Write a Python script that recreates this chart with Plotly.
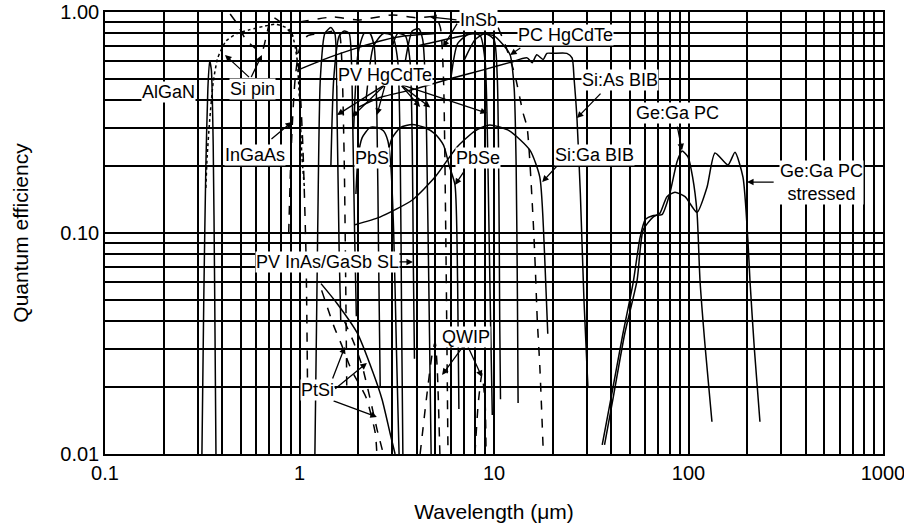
import math
import plotly.graph_objects as go

# ---------------- data (wavelength in um, quantum efficiency) ----------------
algan_x = [0.315, 0.322, 0.33, 0.338, 0.345, 0.352, 0.36, 0.366, 0.372]
algan_y = [0.01, 0.05, 0.2, 0.45, 0.6, 0.55, 0.25, 0.06, 0.01]

sipin_x = [0.33, 0.335, 0.345, 0.36, 0.38, 0.42, 0.48, 0.55, 0.65, 0.75, 0.85, 0.92, 0.97, 1.0, 1.03, 1.06]
sipin_y = [0.16, 0.22, 0.32, 0.48, 0.62, 0.74, 0.8, 0.83, 0.86, 0.88, 0.85, 0.78, 0.62, 0.4, 0.22, 0.16]

si2_x = [0.44, 0.48, 0.53, 0.6, 0.64, 0.68, 0.72, 0.8, 0.9, 0.96, 1.0, 1.04, 1.08, 1.1]
si2_y = [0.98, 0.88, 0.75, 0.68, 0.66, 0.8, 0.95, 0.9, 0.82, 0.7, 0.5, 0.25, 0.08, 0.02]

ingaas_x = [0.88, 0.9, 0.92, 0.95, 1.0, 1.1, 1.3, 1.5, 1.6, 1.65, 1.7, 1.75]
ingaas_y = [0.1, 0.2, 0.32, 0.5, 0.68, 0.78, 0.8, 0.82, 0.8, 0.6, 0.2, 0.02]

# PV HgCdTe family
hg1_x = [1.2, 1.24, 1.28, 1.35, 1.45, 1.52, 1.56, 1.6, 1.63]
hg1_y = [0.01, 0.1, 0.5, 0.8, 0.85, 0.8, 0.34, 0.08, 0.04]
hg2_x = [1.45, 1.5, 1.6, 1.7, 1.8, 1.85, 1.88, 1.92, 1.96]
hg2_y = [0.2, 0.5, 0.78, 0.82, 0.8, 0.6, 0.3, 0.1, 0.042]
hg3_x = [1.9, 2.0, 2.15, 2.3, 2.42, 2.5, 2.55, 2.6]
hg3_y = [0.3, 0.65, 0.8, 0.8, 0.7, 0.34, 0.08, 0.02]
hg4_x = [2.2, 2.4, 2.7, 3.0, 3.2, 3.3, 3.35, 3.4]
hg4_y = [0.4, 0.7, 0.8, 0.78, 0.6, 0.2, 0.04, 0.01]
hg5_x = [3.0, 3.2, 3.5, 3.7, 3.8, 3.85, 3.9]
hg5_y = [0.7, 0.8, 0.78, 0.6, 0.25, 0.07, 0.027]
hg6_x = [3.5, 3.8, 4.1, 4.3, 4.45, 4.55, 4.65, 4.75]
hg6_y = [0.6, 0.82, 0.84, 0.75, 0.45, 0.15, 0.04, 0.01]
hg7_x = [6.0, 6.5, 7.5, 8.5, 9.0, 9.2, 9.4, 9.6, 9.8]
hg7_y = [0.5, 0.72, 0.8, 0.78, 0.6, 0.35, 0.12, 0.04, 0.015]
hg8_x = [7.0, 8.0, 9.0, 10.0, 10.4, 10.6, 10.7, 10.8]
hg8_y = [0.6, 0.75, 0.8, 0.75, 0.5, 0.15, 0.04, 0.0177]
hg9_x = [1.0, 1.4, 2.0, 2.6, 3.5, 5.0]
hg9_y = [0.55, 0.62, 0.69, 0.74, 0.78, 0.8]

insb_x = [1.0, 1.5, 2.0, 3.0, 4.0, 5.0, 5.3, 5.5, 5.65, 5.8]
insb_y = [0.9, 0.95, 0.92, 0.97, 0.94, 0.95, 0.85, 0.5, 0.1, 0.01]

pchg_x = [4.0, 6.0, 8.0, 10.0, 11.0, 12.1, 12.7, 13.0, 13.2, 13.3]
pchg_y = [0.7, 0.76, 0.8, 0.78, 0.72, 0.64, 0.45, 0.2, 0.05, 0.017]

pbs_x = [1.95, 2.0, 2.1, 2.3, 2.5, 2.7, 2.85, 2.95, 3.05, 3.15, 3.25]
pbs_y = [0.15, 0.22, 0.27, 0.3, 0.3, 0.29, 0.26, 0.2, 0.1, 0.03, 0.01]

pbse_x = [2.8, 3.0, 3.3, 3.8, 4.4, 5.0, 5.5, 5.9, 6.3, 6.5, 6.6]
pbse_y = [0.22, 0.27, 0.3, 0.31, 0.3, 0.28, 0.25, 0.2, 0.165, 0.06, 0.016]

arch_x = [1.93, 2.59, 3.8, 5.0, 6.46, 8.0, 9.5, 12.0, 15.3, 17.2, 18.2, 18.9]
arch_y = [0.109, 0.118, 0.141, 0.18, 0.245, 0.29, 0.308, 0.29, 0.237, 0.179, 0.08, 0.035]

sias_x = [2.0, 2.59, 4.0, 6.0, 9.0, 12.0, 14.8, 15.7, 16.6, 17.9, 18.7, 20.1, 23.7, 25.2, 25.8, 26.7, 27.8, 29.0, 30.4]
sias_y = [0.37, 0.41, 0.45, 0.5, 0.55, 0.59, 0.62, 0.59, 0.64, 0.61, 0.65, 0.65, 0.65, 0.62, 0.5, 0.33, 0.15, 0.05, 0.02]

siga_x = [10.5, 11.5, 12.8, 14.1, 14.8, 15.9, 16.3, 16.7, 17.2, 17.9]
siga_y = [0.85, 0.7, 0.52, 0.35, 0.3, 0.114, 0.07, 0.04, 0.025, 0.0105]

sl_x = [1.29, 1.56, 1.98, 2.39, 2.66, 2.92, 3.1]
sl_y = [0.059, 0.048, 0.0353, 0.0233, 0.0176, 0.01245, 0.01]

ptsi1_x = [1.3, 1.5, 1.65, 1.85, 2.2, 2.45, 2.5]
ptsi1_y = [0.055, 0.038, 0.031, 0.024, 0.018, 0.0125, 0.01]
ptsi2_x = [1.7, 1.9, 2.1, 2.3, 2.5, 2.7]
ptsi2_y = [0.04, 0.032, 0.025, 0.018, 0.013, 0.01]

qwip1_x = [4.17, 4.5, 4.8, 4.98, 5.1, 5.27]
qwip1_y = [0.01, 0.018, 0.028, 0.032, 0.025, 0.01]
qwip2_x = [7.98, 8.3, 8.67, 9.0, 9.1]
qwip2_y = [0.01, 0.017, 0.023, 0.017, 0.01]

gega_x = [36, 40, 46, 52, 56.3, 60, 66, 73, 80, 87.3, 92.6, 99.4, 105, 110.6, 114.6, 122, 132]
gega_y = [0.011, 0.018, 0.035, 0.06, 0.095, 0.115, 0.12, 0.121, 0.15, 0.21, 0.235, 0.221, 0.179, 0.124, 0.061, 0.03, 0.014]

gegas_x = [37, 41, 47, 54.4, 58.4, 65.7, 71.3, 77.5, 85.2, 96, 110.6, 124.5, 136.8, 159.6, 173.4, 190.6, 202, 207, 218, 233]
gegas_y = [0.011, 0.018, 0.035, 0.061, 0.103, 0.118, 0.123, 0.146, 0.153, 0.146, 0.124, 0.161, 0.23, 0.203, 0.232, 0.179, 0.093, 0.061, 0.03, 0.014]

x_decades = [0.1, 1, 10, 100, 1000]
x_tick_text = ["0.1", "1", "10", "100", "1000"]
y_decades = [0.01, 0.1, 1.0]
y_tick_text = ["0.01", "0.10", "1.00"]

# ---------------- figure ----------------
fig = go.Figure()

def add(x, y, dash="solid"):
    fig.add_trace(go.Scatter(x=x, y=y, mode="lines",
                             line=dict(color="black", width=1.5, dash=dash, shape="spline", smoothing=0.6),
                             showlegend=False, hoverinfo="skip"))

add(algan_x, algan_y)
add(sipin_x, sipin_y, "dot")
add(si2_x, si2_y, "dash")
add(ingaas_x, ingaas_y, "dash")
for hx, hy in [(hg1_x, hg1_y), (hg2_x, hg2_y), (hg3_x, hg3_y), (hg4_x, hg4_y), (hg5_x, hg5_y),
               (hg6_x, hg6_y), (hg7_x, hg7_y), (hg8_x, hg8_y), (hg9_x, hg9_y)]:
    add(hx, hy)
add(insb_x, insb_y, "dash")
add(pchg_x, pchg_y)
add(pbs_x, pbs_y)
add(pbse_x, pbse_y)
add(arch_x, arch_y)
add(sias_x, sias_y)
add(siga_x, siga_y, "dash")
add(sl_x, sl_y)
add(ptsi1_x, ptsi1_y, "dash")
add(ptsi2_x, ptsi2_y, "dash")
add(qwip1_x, qwip1_y, "dash")
add(qwip2_x, qwip2_y, "dash")
add(gega_x, gega_y)
add(gegas_x, gegas_y)

def grid_with_labels(decades, texts, e0, e1):
    vals = [m * 10 ** e for e in range(e0, e1) for m in range(1, 10)] + [10 ** e1]
    labs = []
    for v in vals:
        lab = ""
        for d, t in zip(decades, texts):
            if abs(v - d) / d < 1e-9:
                lab = t
        labs.append(lab)
    return vals, labs

x_grid, x_text = grid_with_labels(x_decades, x_tick_text, -1, 3)
y_grid, y_text = grid_with_labels(y_decades, y_tick_text, -2, 0)

L = math.log10
FONT = "Liberation Sans, Arial, sans-serif"

def label(text, x, y, xanchor="center"):
    fig.add_annotation(x=L(x), y=L(y), text=text, showarrow=False, xanchor=xanchor,
                       font=dict(size=18, color="black", family=FONT), bgcolor="white", borderpad=0)

def arrow(tx, ty, hx, hy):
    fig.add_annotation(x=L(hx), y=L(hy), ax=L(tx), ay=L(ty), axref="x", ayref="y", xref="x", yref="y",
                       text="", showarrow=True, arrowhead=2, arrowsize=1, arrowwidth=1.3, arrowcolor="black")

# arrows
arrow(0.56, 0.5, 0.414, 0.639)
arrow(0.56, 0.5, 0.641, 0.639)
arrow(0.705, 0.263, 0.915, 0.318)
for hx, hy in [(1.56, 0.342), (1.86, 0.335), (2.5, 0.342), (4.17, 0.372), (4.7, 0.37), (9.2, 0.349)]:
    arrow(2.76 if hx < 3 else 3.3, 0.47, hx, hy)
arrow(7.1, 0.193, 6.3, 0.165)
arrow(6.53, 0.9, 5.47, 0.694)
arrow(6.53, 0.92, 4.69, 0.95)
arrow(13.9, 0.694, 12.1, 0.639)
arrow(35.9, 0.434, 26.7, 0.331)
arrow(21.3, 0.203, 17.7, 0.17)
arrow(87.3, 0.308, 92.6, 0.237)
arrow(279, 0.17, 200, 0.17)
arrow(2.53, 0.074, 3.83, 0.074)
arrow(1.47, 0.0216, 1.71, 0.0305)
arrow(1.5, 0.0195, 2.22, 0.0258)
arrow(1.47, 0.0175, 2.5, 0.0147)
arrow(7.0, 0.031, 5.41, 0.0228)
arrow(7.3, 0.031, 8.67, 0.0223)

# labels
label("AlGaN", 0.211, 0.435)
label("Si pin", 0.57, 0.449)
label("InGaAs", 0.59, 0.225)
label("PV HgCdTe", 2.76, 0.519)
label("PbS", 2.36, 0.218)
label("PbSe", 8.28, 0.218)
label("InSb", 8.28, 0.92)
label("PC HgCdTe", 23.2, 0.787)
label("Si:As BIB", 44.5, 0.492)
label("Si:Ga BIB", 33, 0.225)
label("Ge:Ga PC", 88.3, 0.349)
label("Ge:Ga PC<br>stressed", 292, 0.17, xanchor="left")
label("PV InAs/GaSb SL", 1.4, 0.074)
label("PtSi", 1.24, 0.0195)
label("QWIP", 7.18, 0.0338)

fig.update_layout(
    width=904, height=529,
    margin=dict(l=105, r=21, t=12, b=75, autoexpand=False),
    paper_bgcolor="white", plot_bgcolor="white",
    font=dict(family=FONT, color="black"),
    showlegend=False,
    xaxis=dict(type="log", range=[-1, 3], tickvals=x_grid, ticktext=x_text, automargin=False,
               ticklabeloverflow="allow",
               showgrid=True, gridcolor="black", gridwidth=1.5,
               showline=True, linecolor="black", linewidth=1.5, mirror=True,
               ticks="", tickfont=dict(size=20, family=FONT), zeroline=False,
               title=dict(text="Wavelength (\u03bcm)", font=dict(size=21, family=FONT), standoff=22)),
    yaxis=dict(type="log", range=[-2, 0], tickvals=y_grid, ticktext=y_text, automargin=False,
               ticklabeloverflow="allow",
               showgrid=True, gridcolor="black", gridwidth=1.5,
               showline=True, linecolor="black", linewidth=1.5, mirror=True,
               ticks="", tickfont=dict(size=20, family=FONT), zeroline=False,
               title=dict(text="Quantum efficiency", font=dict(size=21, family=FONT), standoff=26)),
)

fig.write_html("out.html")
